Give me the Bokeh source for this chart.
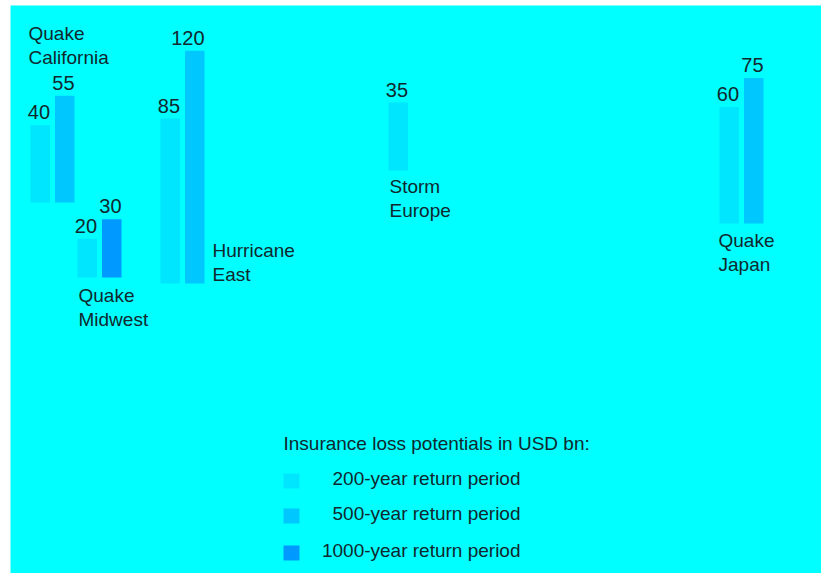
from bokeh.plotting import figure
from bokeh.models import Range1d
from bokeh.embed import file_html
from bokeh.resources import INLINE
from bokeh.core.properties import value

# ---------------- data ----------------
regions = ["Quake California", "Quake Midwest", "Hurricane East", "Storm Europe", "Quake Japan"]
loss_200 = [40, 20, 85, 35, 60]
loss_500 = [55, None, 120, None, 75]
loss_1000 = [None, 30, None, None, None]
period_labels = ["200-year return period", "500-year return period", "1000-year return period"]
legend_title = "Insurance loss potentials in USD bn:"

# ---------------- layout (picture pixels) ----------------
region_left = [30, 77, 160, 388, 719]
region_base = [202, 277, 283, 170, 223]
name_pos = [(28, 40), (78, 302), (212, 257), (389, 193), (718, 247)]
BAR_W, BAR_STEP = 19.5, 24.5
LINE_H = 24
TXT_SHIFT = -7          # baseline correction for the svg text rendering

BG = "#00FFFF"
colors = ["#00E6FF", "#00C8FF", "#0099FF"]
TXT = "#10282e"
FONT = value("Liberation Sans")

W, H = 821, 573
OX, OY = 10, 5          # white margin left / top, as in the reference
FW, FH = W - OX, H - OY
PX_PER_BN = 1.94


def sx(x):
    return x - OX


def sy(y):
    return (OY + FH - y) / PX_PER_BN


p = figure(width=W, height=H, x_range=Range1d(0, FW), y_range=Range1d(0, FH / PX_PER_BN),
           output_backend="svg", toolbar_location=None,
           min_border_left=OX, min_border_top=OY, min_border_right=0, min_border_bottom=0)
p.axis.visible = False
p.grid.visible = False
p.outline_line_color = None
p.background_fill_color = BG
p.border_fill_color = "white"

# bars
series = [loss_200, loss_500, loss_1000]
bl, br, bb, bt, bc, lx, ly, lt = [], [], [], [], [], [], [], []
for i, r in enumerate(regions):
    slot = 0
    for k, s in enumerate(series):
        v = s[i]
        if v is None:
            continue
        left = region_left[i] + slot * BAR_STEP
        base = sy(region_base[i])
        bl.append(sx(left))
        br.append(sx(left + BAR_W))
        bb.append(base)
        bt.append(base + v)
        bc.append(colors[k])
        lx.append(sx(left + BAR_W))
        ly.append(base + v)
        lt.append(str(v))
        slot += 1

p.quad(left=bl, right=br, bottom=bb, top=bt, fill_color=bc, line_color=None)
p.text(x=lx, y=ly, text=lt, text_align="right", text_baseline="alphabetic", y_offset=-6 + TXT_SHIFT,
       text_font=FONT, text_font_size="20px", text_color=TXT)

# region names
nx, ny, nt = [], [], []
for i, r in enumerate(regions):
    for j, part in enumerate(r.split(" ")):
        nx.append(sx(name_pos[i][0]))
        ny.append(sy(name_pos[i][1] + j * LINE_H))
        nt.append(part)
p.text(x=nx, y=ny, text=nt, text_align="left", text_baseline="alphabetic", y_offset=TXT_SHIFT,
       text_font=FONT, text_font_size="19px", text_color=TXT)

# legend
p.text(x=[sx(283)], y=[sy(450)], text=[legend_title], text_align="left", text_baseline="alphabetic",
       y_offset=TXT_SHIFT, text_font=FONT, text_font_size="19px", text_color=TXT)
sw_top = [473, 508, 545]
p.quad(left=[sx(283)] * 3, right=[sx(299)] * 3,
       top=[sy(t) for t in sw_top], bottom=[sy(t + 15) for t in sw_top],
       fill_color=colors, line_color=None)
p.text(x=[sx(520)] * 3, y=[sy(t + 12) for t in sw_top], text=period_labels, text_align="right",
       text_baseline="alphabetic", y_offset=TXT_SHIFT, text_font=FONT, text_font_size="19px",
       text_color=TXT)

open("out.html", "w").write(file_html(p, INLINE))
